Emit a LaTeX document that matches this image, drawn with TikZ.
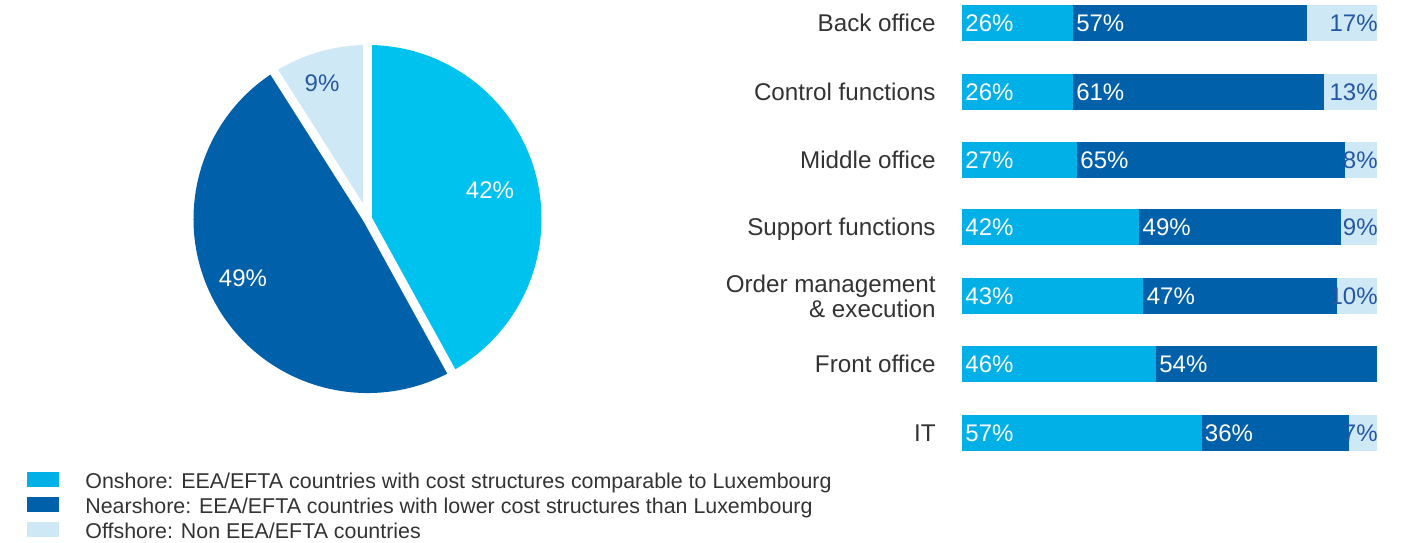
\documentclass[tikz,border=0pt]{standalone}
\usepackage{fontspec}
\setmainfont{Liberation Sans}
\definecolor{onshore}{HTML}{00B0E6}
\definecolor{pieOnshore}{HTML}{00C2EE}
\definecolor{nearshore}{HTML}{0060A9}
\definecolor{offshore}{HTML}{CFE8F6}
\definecolor{offText}{HTML}{2458A4}
\definecolor{labelText}{HTML}{333333}

\begin{document}
\begin{tikzpicture}
[x=0.5pt,y=0.5pt,%
  every node/.style={inner sep=0pt,font=\fontsize{12}{14}\selectfont},%
  pct/.style={text=white},%
  pctOff/.style={text=offText},%
  catLabel/.style={anchor=east,align=right,text depth=0pt,text=labelText,%
    font=\fontsize{12.1}{12.5}\selectfont},%
  legText/.style={anchor=west,text depth=0pt,text=labelText,%
    font=\fontsize{10.7}{12}\selectfont}]
\useasboundingbox (0,0) rectangle (1414,-542);
%% pie
\coordinate (pc) at (367.5,-219);
\fill[pieOnshore] (pc) -- ++(90:174) arc[start angle=90,end angle=-61.2,radius=174] -- cycle;
\fill[nearshore] (pc) -- ++(-61.2:174) arc[start angle=-61.2,end angle=-237.6,radius=174] -- cycle;
\fill[offshore] (pc) -- ++(122.4:174) arc[start angle=122.4,end angle=90,radius=174] -- cycle;
\foreach \cutAngle in {90,-61.2,122.4}
{
  \draw[white,line width=4.5pt,line cap=round] (pc) -- ++(\cutAngle:180);
}
\node[pct] (pieOn) at (490,-190) {42\%};
\node[pct] (pieNear) at (243,-278) {49\%};
\node[pctOff] (pieOff) at (322,-83) {9\%};
%% bars
\foreach \catName/\onShare/\nearShare/\offShare/\rowY [count=\i] in
  {Back office/26/57/17/23, Control functions/26/61/13/92,
   Middle office/27/65/8/160, Support functions/42/49/9/227,
   {Order management\\\& execution}/43/47/10/296, Front office/46/54/0/364,
   IT/57/36/7/433}
{
  \pgfmathsetmacro\xOn{965+4.15*\onShare}
  \pgfmathsetmacro\xNear{min(1377,963+4.15*(\onShare+\nearShare))}
  \fill[offshore] (962,-\rowY+18) rectangle (1377,-\rowY-18);
  \fill[nearshore] (962,-\rowY+18) rectangle (\xNear,-\rowY-18);
  \fill[onshore] (962,-\rowY+18) rectangle (\xOn,-\rowY-18);
  \node[pct,anchor=west] (on\i) at (965,-\rowY) {\onShare\%};
  \node[pct,anchor=west] (near\i) at (\xOn+3,-\rowY) {\nearShare\%};
  \ifnum\offShare>0
    \node[pctOff,anchor=east] (off\i) at (1378,-\rowY) {\offShare\%};
  \fi
  \node[catLabel] (cat\i) at (936,-\rowY) {\catName};
}
%% legend
\foreach \keyName/\keyColor/\keyText [count=\j] in
  {on/onshore/{Onshore: EEA/EFTA countries with cost structures comparable to Luxembourg},
   near/nearshore/{Nearshore: EEA/EFTA countries with lower cost structures than Luxembourg},
   off/offshore/{Offshore: Non EEA/EFTA countries}}
{
  \fill[\keyColor] (27,-472-25*\j+25) rectangle ++(32,-15);
  \node[legText] (leg\keyName) at (85,-480.5-25*\j+25) {\keyText};
}
\end{tikzpicture}
\end{document}
